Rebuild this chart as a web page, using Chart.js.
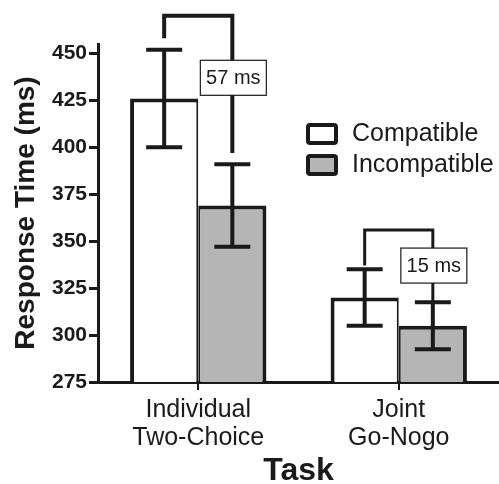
<!DOCTYPE html>
<html>
<head>
<meta charset="utf-8">
<script src="https://cdn.jsdelivr.net/npm/chart.js@4"></script>
<style>
  body { margin: 0; background: #fff; }
  #wrap { width: 499px; height: 484px; }
</style>
</head>
<body>
<div id="wrap"><canvas id="myChart" width="499" height="484"></canvas></div>
<script>
var categories = [['Individual', 'Two-Choice'], ['Joint', 'Go-Nogo']];
var seriesNames = ['Compatible', 'Incompatible'];
var compatible = [426, 320];
var incompatible = [369, 305];
var compatibleErr = [26, 15];
var incompatibleErr = [22, 12.5];
var yTicks = [275, 300, 325, 350, 375, 400, 425, 450];

// difference brackets (values in ms on the y scale)
var diffLabels = ['57 ms', '15 ms'];
var bracketTop = [470, 356];
var bracketLeftEnd = [458, 337];
var bracketRightEnd = [397, 318];
var labelBoxAt = [437, 337];

var ink = '#1a1a1a';
var grey = '#b5b5b5';
var fontFam = '"Liberation Sans", Arial, Helvetica, sans-serif';

var errorBars = {
    id: 'errorBars',
    afterDatasetsDraw: function(chart) {
        var ctx = chart.ctx;
        var y = chart.scales.y;
        var errs = [compatibleErr, incompatibleErr];
        var vals = [compatible, incompatible];
        ctx.save();
        ctx.strokeStyle = ink;
        ctx.lineWidth = 4;
        for (var d = 0; d < 2; d++) {
            var meta = chart.getDatasetMeta(d);
            meta.data.forEach(function(bar, i) {
                var hi = y.getPixelForValue(vals[d][i] + errs[d][i]);
                var lo = y.getPixelForValue(vals[d][i] - errs[d][i]);
                ctx.beginPath();
                ctx.moveTo(bar.x, hi); ctx.lineTo(bar.x, lo);
                ctx.moveTo(bar.x - 18, hi); ctx.lineTo(bar.x + 18, hi);
                ctx.moveTo(bar.x - 18, lo); ctx.lineTo(bar.x + 18, lo);
                ctx.stroke();
            });
        }

        // brackets with difference labels
        var m0 = chart.getDatasetMeta(0), m1 = chart.getDatasetMeta(1);
        for (var i = 0; i < diffLabels.length; i++) {
            var x0 = m0.data[i].x, x1 = m1.data[i].x;
            ctx.lineWidth = i == 0 ? 4 : 3;
            ctx.beginPath();
            ctx.moveTo(x0, y.getPixelForValue(bracketLeftEnd[i]));
            ctx.lineTo(x0, y.getPixelForValue(bracketTop[i]));
            ctx.lineTo(x1, y.getPixelForValue(bracketTop[i]));
            ctx.lineTo(x1, y.getPixelForValue(bracketRightEnd[i]));
            ctx.stroke();
            var cy = y.getPixelForValue(labelBoxAt[i]);
            var bw = 66, bh = 35;
            ctx.fillStyle = '#fff';
            ctx.fillRect(x1 - bw / 2 + 1, cy - bh / 2, bw, bh);
            ctx.lineWidth = 1.2;
            ctx.strokeRect(x1 - bw / 2 + 1, cy - bh / 2, bw, bh);
            ctx.fillStyle = ink;
            ctx.font = '20px ' + fontFam;
            ctx.textAlign = 'center';
            ctx.textBaseline = 'middle';
            ctx.fillText(diffLabels[i], x1 + 1, cy + 1);
        }
        ctx.restore();
    }
};

var legendBox = {
    id: 'legendBox',
    afterDraw: function(chart) {
        var ctx = chart.ctx;
        var fills = ['#ffffff', grey];
        ctx.save();
        ctx.font = '25px ' + fontFam;
        ctx.textBaseline = 'middle';
        ctx.textAlign = 'left';
        for (var i = 0; i < seriesNames.length; i++) {
            var top = 125 + i * 31;
            ctx.fillStyle = fills[i];
            ctx.strokeStyle = ink;
            ctx.lineWidth = 4;
            ctx.beginPath();
            ctx.roundRect(308, top, 28, 18, 2);
            ctx.fill();
            ctx.stroke();
            ctx.fillStyle = ink;
            ctx.fillText(seriesNames[i], 352, top + 9);
        }
        ctx.restore();
    }
};

var ctx = document.getElementById('myChart').getContext('2d');
var chart = new Chart(ctx, {
    type: 'bar',
    data: {
        labels: categories,
        datasets: [{
            label: seriesNames[0],
            data: compatible,
            backgroundColor: '#ffffff',
            borderColor: ink,
            borderWidth: {top: 4, left: 4, right: 2, bottom: 0},
            borderSkipped: false,
            categoryPercentage: 0.68,
            barPercentage: 1.0
        },
        {
            label: seriesNames[1],
            data: incompatible,
            backgroundColor: grey,
            borderColor: ink,
            borderWidth: {top: 4, left: 2, right: 4, bottom: 0},
            borderSkipped: false,
            categoryPercentage: 0.68,
            barPercentage: 1.0
        }]
    },
    options: {
        responsive: false,
        animation: false,
        layout: { padding: { top: 44, right: 0, left: 0, bottom: 0 } },
        plugins: {
            legend: { display: false },
            tooltip: { enabled: false }
        },
        scales: {
            x: {
                grid: { display: true, drawOnChartArea: false, offset: false, tickLength: 8, lineWidth: 2, color: ink },
                border: { display: true, width: 3, color: ink },
                ticks: { color: ink, font: { family: fontFam, size: 25, lineHeight: 1.12 }, padding: 6 },
                title: { display: true, text: 'Task', color: ink, font: { family: fontFam, size: 32, weight: 'bold', lineHeight: 0.8 }, padding: { top: 0, bottom: 0 } },
                afterFit: function(s) { s.height = 102; }
            },
            y: {
                min: 275,
                max: 455,
                afterBuildTicks: function(s) { s.ticks = yTicks.map(function(v) { return { value: v }; }); },
                grid: { display: true, drawOnChartArea: false, tickLength: 9, lineWidth: 3, color: ink },
                border: { display: true, width: 3, color: ink },
                ticks: { color: ink, font: { family: fontFam, size: 21, weight: 'bold' }, padding: 2 },
                title: { display: true, text: 'Response Time (ms)', color: ink, font: { family: fontFam, size: 28, weight: 'bold' }, padding: { top: 9, bottom: 4 } },
                afterFit: function(s) { s.width = 98; }
            }
        }
    },
    plugins: [errorBars, legendBox]
});
</script>
</body>
</html>
